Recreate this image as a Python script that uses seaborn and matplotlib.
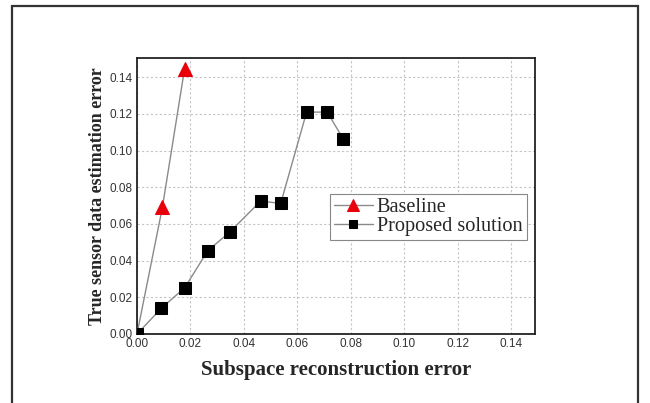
import matplotlib
matplotlib.use("Agg")
import matplotlib.pyplot as plt
import seaborn as sns
import pandas as pd
from matplotlib.patches import Rectangle

# Data
baseline_x = [0.0, 0.0095, 0.0178]
baseline_y = [0.0, 0.069, 0.1445]
proposed_x = [0.0, 0.0091, 0.0179, 0.0265, 0.0348, 0.0463, 0.0538, 0.0635, 0.0712, 0.0772]
proposed_y = [0.0, 0.014, 0.0253, 0.0454, 0.0557, 0.0725, 0.0712, 0.121, 0.121, 0.1064]
x_ticks = [0.00, 0.02, 0.04, 0.06, 0.08, 0.10, 0.12, 0.14]
y_ticks = [0.00, 0.02, 0.04, 0.06, 0.08, 0.10, 0.12, 0.14]
x_label = "Subspace reconstruction error"
y_label = "True sensor data estimation error"
series_names = ["Baseline", "Proposed solution"]

sns.set_style("white")
plt.rcParams['font.family'] = ['Liberation Sans', 'DejaVu Sans']

fig = plt.figure(figsize=(6.5, 4.03), dpi=100)
ax = fig.add_axes([137/650, (403-334)/403, 398/650, 276/403])

df_b = pd.DataFrame({"x": baseline_x, "y": baseline_y})
df_p = pd.DataFrame({"x": proposed_x, "y": proposed_y})

sns.lineplot(data=df_b, x="x", y="y", ax=ax, sort=False, color="#8a8a8a", lw=1.0,
             marker="^", markersize=10, markerfacecolor="#e8000b", markeredgecolor="#e8000b",
             label=series_names[0], zorder=3)
sns.lineplot(data=df_p, x="x", y="y", ax=ax, sort=False, color="#8a8a8a", lw=1.0,
             marker="s", markersize=8, markerfacecolor="black", markeredgecolor="black",
             label=series_names[1], zorder=4)

ax.set_xlim(0, 0.149)
ax.set_ylim(0, 0.1505)
ax.set_xticks(x_ticks)
ax.set_yticks(y_ticks)
ax.set_xticklabels([f"{v:.2f}" for v in x_ticks])
ax.set_yticklabels([f"{v:.2f}" for v in y_ticks])
ax.tick_params(axis="both", length=0, labelsize=8.5, labelcolor="#333333", pad=3)

ax.grid(True, color="#c4c4c4", linestyle=(0, (2, 2)), linewidth=0.8)
for s in ax.spines.values():
    s.set_color("#222222")
    s.set_linewidth(1.3)
    s.set_visible(True)

ax.set_xlabel(x_label, family=["Liberation Serif"], fontweight="bold", fontsize=15, labelpad=7)
ax.set_ylabel(y_label, family=["Liberation Serif"], fontweight="bold", fontsize=13, labelpad=3)

handles, labels = ax.get_legend_handles_labels()
leg = ax.legend(handles, labels,
                loc="lower left", bbox_to_anchor=(0.485, 0.34, 0.495, 0.174), mode="expand",
                borderaxespad=0,
                prop={"family": "Liberation Serif", "size": 14.6}, fancybox=False,
                framealpha=1, edgecolor="#888888", handlelength=1.9, handletextpad=0.2,
                borderpad=0.2, labelspacing=0.0, markerscale=0.8)
leg.get_frame().set_linewidth(0.8)

fig.patches.append(Rectangle((12/650, -0.05), 626/650, (403-6)/403 + 0.05,
                             transform=fig.transFigure, fill=False,
                             edgecolor="#333333", linewidth=1.6, zorder=10))

fig.savefig("out.png", dpi=100)
